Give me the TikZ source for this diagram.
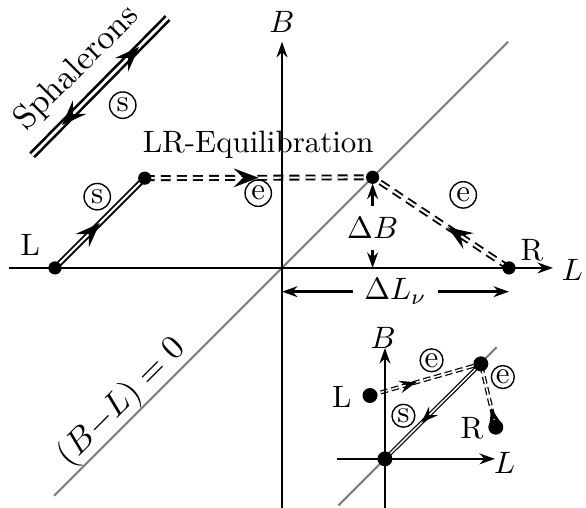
\documentclass[tikz,border=0pt]{standalone}
\usepackage{amsmath}
\usepackage{amssymb}
\usetikzlibrary{positioning, arrows.meta, decorations.markings}

\tikzset{
    dot/.style={circle, fill, inner sep=0pt, minimum size=1.5mm},
    circ/.style={circle, draw, line width=0.45pt, inner sep=0pt, minimum size=3mm},
    icirc/.style={circ, minimum size=2.6mm},
    dbl/.style={double, line width=0.6pt, double distance=0.7pt},
    sdbl/.style={double, line width=0.85pt, double distance=0.9pt},
    edbl/.style={dbl, dash pattern=on 3.2pt off 2pt},
    idbl/.style={double, line width=0.4pt, double distance=0.5pt},
    iedbl/.style={idbl, dash pattern=on 2.4pt off 1.2pt},
    mid/.style={postaction={decorate, decoration={markings,
        mark=at position #1 with {\arrow{Stealth[length=8pt, width=6pt, inset=3pt]}}}}},
    rmid/.style={postaction={decorate, decoration={markings,
        mark=at position #1 with {\arrowreversed{Stealth[length=8pt, width=6pt, inset=3pt]}}}}},
    imid/.style={postaction={decorate, decoration={markings,
        mark=at position #1 with {\arrow{Stealth[length=5.5pt, width=4pt, inset=2pt]}}}}},
}

\begin{document}
\begin{tikzpicture}[>={Stealth[length=5pt, width=3.5pt]}, thick]
    \useasboundingbox (-3.205,-2.727) rectangle (3.455,3.045);

    % Axes end points
    \coordinate (O) at (0,0);
    \coordinate (xa) at (-3.10,0);
    \coordinate (xb) at (3.08,0);
    \coordinate (ya) at (0,-2.73);
    \coordinate (yb) at (0,2.57);
    \coordinate (ga) at (-2.59,-2.59);
    \coordinate (gb) at (2.57,2.57);

    % States
    \coordinate (pL) at (-2.58,0);
    \coordinate (pK) at (-1.56,1.02);
    \coordinate (pE) at (1.03,1.03);
    \coordinate (pR) at (2.58,0);

    % Sphaleron line
    \coordinate (sa) at (-2.84,1.28);
    \coordinate (sb) at (-1.30,2.84);

    % B-L = 0 line
    \draw[gray, line width=0.7pt] (ga) -- (gb);

    % Paths
    \draw[dbl, mid=0.5] (pL) -- (pK);
    \draw[edbl, mid=0.5] (pK) -- (pE);
    \draw[edbl, mid=0.45] (pR) -- (pE);
    \draw[sdbl, mid=0.79, rmid=0.22] (sa) -- (sb);

    % Axes
    \draw[->] (xa) -- (xb);
    \draw[->] (ya) -- (yb);
    \node (lB) at (0,2.80) {$B$};
    \node (lLx) at (3.30,-0.02) {$L$};

    % Labels
    \node (lL) at (-2.86,0.26) {L};
    \node (lR) at (2.84,0.20) {R};
    \node (lEq) at (-0.27,1.40) {LR-Equilibration};
    \node[circ] (s1) at (-2.10,0.81) {s};
    \node[circ] (e1) at (-0.27,0.85) {e};
    \node[circ] (e2) at (2.06,0.83) {e};
    \node[circ] (s2) at (-1.81,1.85) {s};
    \node[rotate=45, scale=1.1] (sph) at (-2.33,2.27) {Sphalerons};
    \node[rotate=45, scale=1.1] (bl) at (-1.82,-1.53) {$(B{-}L)=0$};

    % Delta B and Delta L
    \node (dB) at (1.03,0.45) {$\Delta B$};
    \draw[->, shorten >=2pt] (dB) -- (pE);
    \draw[->] (dB) -- (dB |- O);
    \node (dL) at (1.29,-0.27) {$\Delta L_\nu$};
    \draw[->] (dL) -- (dL -| O);
    \draw[->] (dL) -- (dL -| pR);

    % Dots
    \foreach \p in {pL, pK, pE, pR}
        \fill (\p) circle (0.075);

    % Small picture
    \begin{scope}[shift={(1.17,-2.17)}]
        \coordinate (iO) at (0,0);
        \coordinate (ixa) at (-0.54,0);
        \coordinate (ixb) at (1.25,0);
        \coordinate (iya) at (0,-0.56);
        \coordinate (iyb) at (0,1.26);
        \coordinate (iga) at (-0.53,-0.53);
        \coordinate (igb) at (1.27,1.27);
        \coordinate (iE) at (1.09,1.08);
        \coordinate (iL) at (-0.17,0.72);
        \coordinate (iR) at (1.26,0.36);

        \draw[gray, line width=0.7pt] (iga) -- (igb);
        \draw[idbl, imid=0.62] (iE) -- (iO);
        \draw[iedbl, imid=0.42] (iL) -- (iE);
        \draw[iedbl, imid=0.3] (iR) -- (iE);

        \draw[->] (ixa) -- (ixb);
        \draw[->] (iya) -- (iyb);
        \node (ilB) at (-0.02,1.37) {$B$};
        \node (ilL) at (1.36,-0.05) {$L$};

        \node (ilLs) at (-0.49,0.70) {L};
        \node (ilRs) at (0.99,0.35) {R};
        \node[icirc] (ie1) at (0.53,1.12) {e};
        \node[icirc] (ie2) at (1.34,0.93) {e};
        \node[icirc] (is1) at (0.21,0.49) {s};

        \foreach \p in {iO, iE, iL, iR}
            \fill (\p) circle (0.085);
    \end{scope}
\end{tikzpicture}
\end{document}
